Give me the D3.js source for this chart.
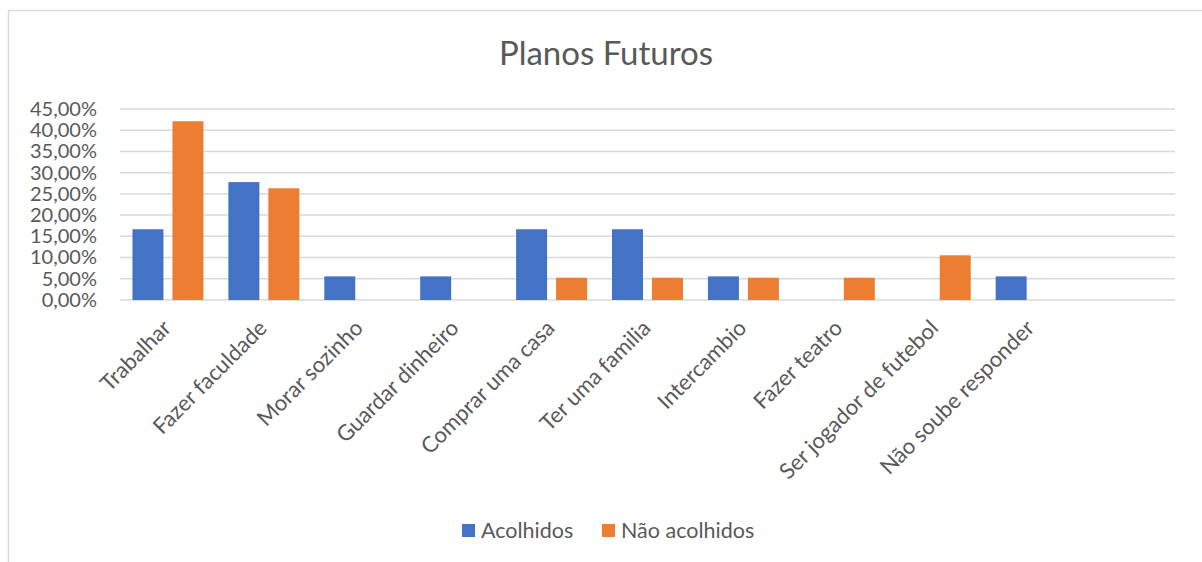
<!DOCTYPE html>
<html>
<head>
<meta charset="utf-8">
<script src="https://cdn.jsdelivr.net/npm/d3@7"></script>
<style>
  body { margin: 0; background: #fff; }
  svg text { font-family: Lato, "Open Sans", sans-serif; fill: #595959; }
</style>
</head>
<body>
<script>
// chart data
var categories = ["Trabalhar", "Fazer faculdade", "Morar sozinho", "Guardar dinheiro",
    "Comprar uma casa", "Ter uma familia", "Intercambio", "Fazer teatro",
    "Ser jogador de futebol", "Não soube responder", ""];
var seriesNames = ["Acolhidos", "Não acolhidos"];
var acolhidos = [0.1667, 0.2778, 0.0556, 0.0556, 0.1667, 0.1667, 0.0556, 0, 0, 0.0556, null];
var naoAcolhidos = [0.4211, 0.2632, 0, 0, 0.0526, 0.0526, 0.0526, 0.0526, 0.1053, 0, null];
var yTicks = [0, 0.05, 0.10, 0.15, 0.20, 0.25, 0.30, 0.35, 0.40, 0.45];
var colors = ["#4472C4", "#ED7D31"];

var W = 1202, H = 562;
var plot = {left: 120, right: 1175, top: 109, bottom: 300};

var ptBR = d3.formatLocale({decimal: ",", thousands: ".", grouping: [3], currency: ["R$", ""]});
var fmt = ptBR.format(".2%");

var svg = d3.select("body").append("svg")
    .attr("width", W)
    .attr("height", H);

// outer chart border (only top and left visible in the crop)
svg.append("path")
    .attr("d", "M8.5," + H + "V10.5H" + W)
    .style("fill", "none")
    .style("stroke", "#d9d9d9")
    .style("stroke-width", 1.5);

svg.append("text")
    .attr("x", 606)
    .attr("y", 65)
    .attr("text-anchor", "middle")
    .style("font-size", "33px")
    .text("Planos Futuros");

var x0 = d3.scaleBand().domain(categories).range([plot.left, plot.right]);
var bw = x0.bandwidth();
var x1 = d3.scaleBand().domain(seriesNames)
    .range([bw * 0.13, bw * 0.87])
    .paddingInner(0.225);
var y = d3.scaleLinear().domain([0, 0.45]).range([plot.bottom, plot.top]);

// gridlines
svg.append("g")
    .selectAll("line")
    .data(yTicks)
    .enter()
    .append("line")
    .attr("x1", plot.left)
    .attr("x2", plot.right)
    .attr("y1", d => y(d))
    .attr("y2", d => y(d))
    .style("stroke", "#d9d9d9")
    .style("stroke-width", 1.5);

// y axis labels
var yAxis = svg.append("g")
    .attr("transform", "translate(97,0)")
    .call(d3.axisLeft(y).tickValues(yTicks).tickFormat(fmt).tickSize(0).tickPadding(0));
yAxis.select(".domain").remove();
yAxis.selectAll("text")
    .style("font-size", "20px")
    .style("font-family", "Lato, sans-serif")
    .attr("fill", "#595959");

// bars
var seriesData = [acolhidos, naoAcolhidos];
var groups = svg.append("g")
    .selectAll("g")
    .data(categories)
    .enter()
    .append("g")
    .attr("transform", d => "translate(" + x0(d) + ",0)");

groups.selectAll("rect")
    .data(function(d, i) {
        return seriesNames.map((s, k) => ({series: s, k: k, value: seriesData[k][i]}));
    })
    .enter()
    .filter(d => d.value != null && d.value > 0)
    .append("rect")
    .attr("x", d => x1(d.series))
    .attr("width", x1.bandwidth())
    .attr("y", d => y(d.value))
    .attr("height", d => y(0) - y(d.value))
    .style("fill", d => colors[d.k]);

// category labels
svg.append("g")
    .selectAll("text")
    .data(categories)
    .enter()
    .append("text")
    .attr("text-anchor", "end")
    .attr("transform", d => "translate(" + (x0(d) + bw / 2 - 1) + ",324) rotate(-45)")
    .attr("dy", "0.35em")
    .style("font-size", "22px")
    .text(d => d);

// legend
var legend = svg.append("g");
var legendX = [462, 602];
seriesNames.forEach(function(name, k) {
    legend.append("rect")
        .attr("x", legendX[k])
        .attr("y", 524)
        .attr("width", 13)
        .attr("height", 13)
        .style("fill", colors[k]);
    legend.append("text")
        .attr("x", legendX[k] + 19)
        .attr("y", 538)
        .style("font-size", "21.5px")
        .text(name);
});
</script>
</body>
</html>
